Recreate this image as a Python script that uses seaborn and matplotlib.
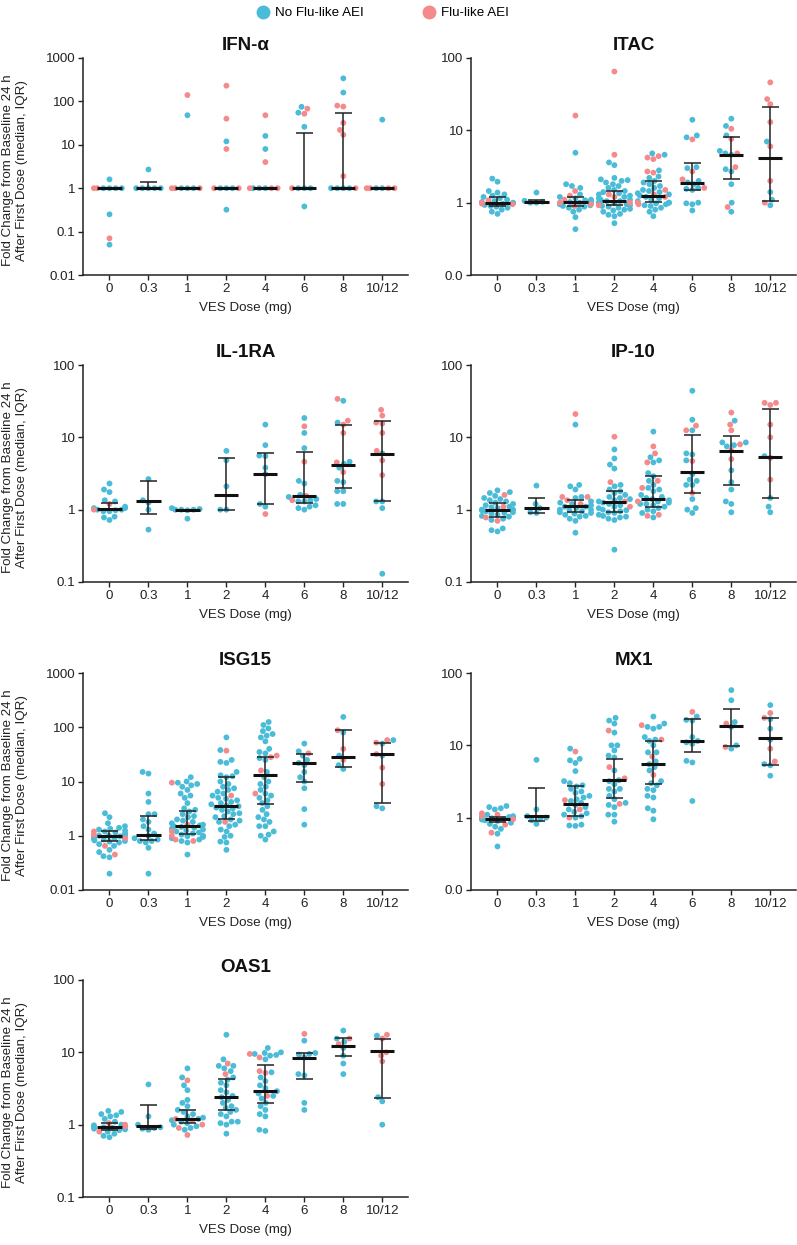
import warnings
import numpy as np
import pandas as pd
import matplotlib
matplotlib.use("Agg")
import matplotlib.pyplot as plt
from matplotlib.lines import Line2D
import seaborn as sns

warnings.filterwarnings("ignore")

DOSES = ["0", "0.3", "1", "2", "4", "6", "8", "10/12"]
GROUPS = ["No Flu-like AEI", "Flu-like AEI"]
BLUE = "#4BBCD8"
RED = "#F58A8C"

# ---- IFN-alpha ----
IFNA_NO = {"0": [1.6, 1, 1, 1, 1, 0.25, 0.05], "0.3": [2.7, 1, 1, 1, 1, 1],
           "1": [48, 1, 1, 1], "2": [12, 1, 1, 1, 0.32], "4": [16, 8, 1, 1, 1],
           "6": [75, 55, 26, 1, 1, 1, 0.38], "8": [340, 160, 1, 1, 1, 1],
           "10/12": [38, 1, 1]}
IFNA_FLU = {"0": [1, 1, 0.07], "0.3": [], "1": [140, 1, 1, 1], "2": [230, 40, 8, 1, 1],
            "4": [48, 4, 1, 1, 1], "6": [68, 52, 1], "8": [80, 76, 32, 22, 17, 1.9, 1],
            "10/12": [1, 1, 1, 1]}
IFNA_MED = [1, 1, 1, 1, 1, 1, 1, 1]
IFNA_Q1 = [1, 1, 1, 1, 1, 1, 1, 1]
IFNA_Q3 = [1, 1.4, 1, 1, 1, 19, 53, 1]

# ---- ITAC ----
ITAC_NO = {"0": [2.15, 1.95, 1.45, 1.38, 1.3, 1.25, 1.2, 1.15, 1.1, 1.05, 1.02, 1.0, 0.98, 0.96,
                 0.93, 0.9, 0.88, 0.85, 0.8, 0.75, 0.7],
           "0.3": [1.38, 1.06, 1.03, 1.0, 1.0],
           "1": [4.9, 1.8, 1.7, 1.6, 1.3, 1.2, 1.15, 1.1, 1.08, 1.05, 1.02, 1.0, 1.0, 0.98, 0.95,
                 0.92, 0.9, 0.88, 0.85, 0.8, 0.75, 0.63, 0.43],
           "2": [3.6, 3.3, 2.2, 2.1, 2.05, 2.0, 1.9, 1.8, 1.7, 1.6, 1.5, 1.45, 1.4, 1.35, 1.3, 1.25,
                 1.2, 1.15, 1.1, 1.1, 1.05, 1.05, 1.0, 1.0, 0.98, 0.95, 0.92, 0.9, 0.88, 0.85, 0.82,
                 0.8, 0.78, 0.75, 0.7, 0.68, 0.65, 0.52],
           "4": [4.8, 4.6, 2.8, 2.3, 2.2, 2.0, 1.9, 1.8, 1.7, 1.6, 1.5, 1.45, 1.4, 1.35, 1.3, 1.25,
                 1.2, 1.15, 1.1, 1.05, 1.0, 1.0, 0.98, 0.95, 0.92, 0.9, 0.85, 0.8, 0.75, 0.65],
           "6": [14, 8.5, 8.0, 3.1, 3.0, 2.0, 1.9, 1.8, 1.6, 1.55, 1.5, 1.0, 0.98, 0.95, 0.78],
           "8": [14.5, 11.5, 8.5, 5.2, 4.8, 4.6, 2.9, 2.7, 1.8, 1.0, 0.75],
           "10/12": [7.0, 1.4, 1.1, 0.92]}
ITAC_FLU = {"0": [1.08, 1.0, 0.97, 0.95], "0.3": [],
            "1": [16, 1.45, 1.25, 1.1, 1.0, 0.95, 0.9],
            "2": [65, 4.6, 1.3, 1.2, 1.0, 0.92],
            "4": [4.4, 4.2, 4.0, 2.7, 2.6, 1.5, 1.3, 1.2, 1.0, 0.95],
            "6": [7.5, 2.7, 2.1, 1.6], "8": [10.5, 7.6, 4.8, 3.1, 0.87],
            "10/12": [46, 27, 23, 13, 6.0, 2.0, 1.0]}
ITAC_MED = [1.0, 1.03, 1.02, 1.07, 1.25, 1.85, 4.6, 4.1]
ITAC_Q1 = [0.9, 1.0, 0.9, 0.92, 1.03, 1.5, 2.1, 1.07]
ITAC_Q3 = [1.18, 1.1, 1.2, 1.45, 2.0, 3.5, 8.0, 21]

# ---- IL-1RA ----
IL1RA_NO = {"0": [2.3, 1.9, 1.75, 1.35, 1.3, 1.1, 1.05, 1.05, 1.0, 1.0, 0.98, 0.95, 0.95, 0.8,
                  0.78, 0.72],
            "0.3": [2.65, 1.35, 1.25, 1.0, 0.53],
            "1": [1.05, 1.02, 1.0, 1.0, 0.98, 1.0, 0.75],
            "2": [6.5, 4.8, 2.1, 1.0, 1.0],
            "4": [15, 7.8, 5.6, 5.5, 3.8, 3.1, 1.2, 1.1],
            "6": [18.5, 11.5, 7.1, 2.5, 2.3, 1.6, 1.5, 1.4, 1.35, 1.3, 1.3, 1.15, 1.1, 1.05, 1.0],
            "8": [32, 16, 4.6, 4.3, 3.8, 2.5, 2.4, 1.8, 1.8, 1.2, 1.2],
            "10/12": [6.0, 1.3, 1.3, 1.05, 0.13]}
IL1RA_FLU = {"0": [1.2, 1.0], "0.3": [], "1": [], "2": [], "4": [0.87],
             "6": [14.2, 4.6, 1.55, 1.35], "8": [34, 17, 15, 11.5, 4.5, 3.3],
             "10/12": [24, 20, 16, 15.5, 11.5, 6.5, 4.8, 3.0]}
IL1RA_MED = [1.02, 1.3, 1.0, 1.6, 3.1, 1.55, 4.2, 5.8]
IL1RA_Q1 = [1.0, 0.88, 0.95, 1.0, 1.18, 1.25, 2.0, 1.3]
IL1RA_Q3 = [1.25, 2.5, 1.0, 5.2, 6.1, 6.2, 15, 17]

# ---- IP-10 ----
IP10_NO = {"0": [1.85, 1.75, 1.7, 1.55, 1.45, 1.4, 1.35, 1.3, 1.25, 1.2, 1.15, 1.1, 1.08, 1.05,
                 1.0, 1.0, 0.98, 0.95, 0.92, 0.9, 0.88, 0.85, 0.82, 0.8, 0.75, 0.72, 0.55, 0.52, 0.5],
           "0.3": [2.15, 1.2, 1.05, 0.92, 0.9],
           "1": [15, 2.2, 2.1, 1.9, 1.5, 1.45, 1.3, 1.25, 1.2, 1.15, 1.1, 1.1, 1.05, 1.0, 1.0, 0.98,
                 0.95, 0.92, 0.9, 0.88, 0.85, 0.82, 0.8, 0.75, 0.7, 0.48],
           "2": [6.8, 5.1, 4.2, 3.7, 2.2, 2.1, 1.9, 1.8, 1.7, 1.6, 1.5, 1.45, 1.4, 1.35, 1.3, 1.25,
                 1.2, 1.15, 1.1, 1.05, 1.0, 0.98, 0.95, 0.92, 0.9, 0.85, 0.82, 0.8, 0.78, 0.75, 0.72,
                 0.28],
           "4": [12, 5.3, 4.8, 4.5, 3.2, 2.9, 2.5, 2.2, 2.0, 1.9, 1.8, 1.6, 1.5, 1.45, 1.4, 1.35,
                 1.3, 1.25, 1.2, 1.2, 1.15, 1.1, 1.05, 1.0, 0.95, 0.9, 0.78],
           "6": [44, 17.5, 12.5, 6.0, 5.8, 4.8, 3.1, 2.6, 2.5, 2.2, 2.2, 1.4, 1.05, 1.0, 0.9],
           "8": [17, 8.5, 8.5, 7.8, 7.5, 3.5, 2.4, 1.9, 1.3, 1.2, 0.92],
           "10/12": [5.5, 1.45, 1.1, 0.92]}
IP10_FLU = {"0": [1.6, 1.1, 0.78, 0.7], "0.3": [], "1": [21, 1.5, 1.5, 1.35, 1.2],
            "2": [10.2, 2.4, 1.3, 1.1], "4": [7.5, 6.0, 4.5, 2.5, 2.0, 1.3, 0.85, 0.82],
            "6": [14.5, 12.5, 4.7, 1.7], "8": [22, 15, 12.5, 8.0, 6.6, 5.0],
            "10/12": [30, 30, 28, 15, 10, 5.2, 2.6]}
IP10_MED = [1.0, 1.07, 1.12, 1.28, 1.4, 3.3, 6.5, 5.3]
IP10_Q1 = [0.78, 0.9, 0.92, 0.93, 1.1, 1.7, 2.2, 1.45]
IP10_Q3 = [1.25, 1.45, 1.35, 1.8, 2.9, 10.7, 10.5, 24.5]

# ---- ISG15 ----
ISG15_NO = {"0": [2.6, 2.2, 1.7, 1.5, 1.4, 1.35, 1.3, 1.25, 1.2, 1.15, 1.1, 1.05, 1.0, 1.0, 0.98,
                  0.95, 0.92, 0.9, 0.88, 0.85, 0.82, 0.8, 0.78, 0.75, 0.7, 0.65, 0.55, 0.5, 0.42,
                  0.4, 0.2],
            "0.3": [15, 14, 6.0, 4.2, 2.5, 2.5, 2.0, 1.8, 1.5, 1.3, 1.1, 1.0, 0.9, 0.85, 0.8, 0.8,
                    0.75, 0.6, 0.2],
            "1": [12, 10, 9.5, 9, 8.5, 8, 7, 6, 5.5, 5, 4, 3.2, 3.0, 2.8, 2.5, 2.3, 2.2, 2.0, 1.9,
                  1.8, 1.7, 1.6, 1.55, 1.5, 1.45, 1.4, 1.35, 1.3, 1.25, 1.2, 1.15, 1.1, 1.05, 1.0,
                  0.98, 0.95, 0.9, 0.85, 0.8, 0.75, 0.45],
            "2": [65, 38, 25, 23, 22, 15, 13, 12.5, 12, 10, 9, 8, 7.5, 7, 6.5, 6, 5.5, 5, 4.8, 4.5,
                  4.2, 4.0, 3.8, 3.6, 3.5, 3.3, 3.2, 3.0, 2.8, 2.6, 2.5, 2.3, 2.2, 2.0, 1.9, 1.8,
                  1.6, 1.5, 1.3, 1.2, 1.0, 0.95, 0.78, 0.75, 0.55],
            "4": [125, 110, 95, 85, 75, 70, 65, 55, 40, 35, 33, 27, 25, 15, 12, 10, 9, 8, 7, 6, 5.5,
                  5, 4.5, 4, 3.5, 3, 2.5, 2.2, 2.0, 1.8, 1.5, 1.5, 1.2, 1.05, 1.0, 0.85],
            "6": [50, 36, 30, 25, 22, 20, 15, 12, 10, 7.5, 3.1, 1.6],
            "8": [155, 80, 30, 20, 17],
            "10/12": [58, 50, 30, 3.5, 3.2]}
ISG15_FLU = {"0": [1.2, 1.05, 0.9, 0.65, 0.45], "0.3": [], "1": [9.5, 1.6, 1.2, 1.0, 0.85, 0.8],
             "2": [37, 5.5, 1.8], "4": [30, 28, 16, 6.0], "6": [33], "8": [88, 40, 25],
             "10/12": [58, 52, 32, 18, 9]}
ISG15_MED = [0.98, 1.03, 1.5, 3.5, 13, 22, 28, 32]
ISG15_Q1 = [0.8, 0.82, 1.1, 2.0, 3.8, 10, 18.5, 4.0]
ISG15_Q3 = [1.2, 2.3, 2.8, 12, 28, 32, 88, 52]

# ---- MX1 ----
MX1_NO = {"0": [1.45, 1.4, 1.35, 1.3, 1.1, 1.05, 1.02, 1.0, 1.0, 0.98, 0.96, 0.94, 0.92, 0.9,
                0.85, 0.82, 0.75, 0.7, 0.6, 0.4],
          "0.3": [6.3, 1.3, 1.05, 1.0, 0.95, 0.92, 0.82],
          "1": [9, 6.5, 6.2, 5.7, 4.4, 3.2, 3.0, 2.8, 2.7, 2.5, 2.3, 2.2, 2.0, 1.9, 1.8, 1.7, 1.6,
                1.5, 1.4, 1.3, 1.2, 1.15, 1.1, 1.05, 1.0, 0.8, 0.78, 0.77],
          "2": [24, 22, 20, 15, 10, 10, 8.5, 7.2, 6.8, 4.5, 3.3, 3.2, 2.9, 2.5, 2.5, 2.3, 2.0, 1.8,
                1.6, 1.5, 1.4, 1.1, 1.1, 0.88],
          "4": [25, 20, 18, 18, 17, 13, 12, 11.5, 10, 8, 8, 6, 5.5, 5, 4.5, 3.2, 3.0, 2.8, 2.5,
                2.4, 2.0, 1.9, 1.35, 1.25, 0.95],
          "6": [25, 22.5, 22, 13, 11.5, 11, 10.5, 6.1, 5.8, 1.7],
          "8": [58, 42, 21, 18, 10, 9],
          "10/12": [36, 23, 17, 12, 5.5, 5.3, 3.8]}
MX1_FLU = {"0": [1.15, 1.1, 1.05, 0.95, 0.8, 0.62], "0.3": [], "1": [8.2, 1.75, 1.3, 1.0],
           "2": [16, 5.0, 3.5, 1.55], "4": [19, 12, 7, 3.9], "6": [29], "8": [20, 9.5],
           "10/12": [28, 24, 9, 6]}
MX1_MED = [0.97, 1.05, 1.55, 3.3, 5.6, 11.5, 18.5, 12.5]
MX1_Q1 = [0.88, 0.9, 1.07, 1.85, 2.9, 8.0, 9.7, 5.3]
MX1_Q3 = [1.03, 2.6, 2.75, 6.5, 11.5, 23, 32, 24]

# ---- OAS1 ----
OAS1_NO = {"0": [1.55, 1.5, 1.4, 1.35, 1.3, 1.2, 1.1, 1.0, 0.98, 0.95, 0.93, 0.92, 0.9, 0.88,
                 0.86, 0.84, 0.8, 0.75, 0.7, 0.67],
           "0.3": [3.6, 1.3, 1.0, 0.92, 0.9, 0.88, 0.85],
           "1": [6.0, 4.5, 3.5, 3.0, 2.2, 2.0, 1.8, 1.6, 1.5, 1.4, 1.3, 1.25, 1.2, 1.15, 1.1, 1.05,
                 1.0, 0.95, 0.9, 0.85],
           "2": [17.5, 8, 6.5, 6.5, 6, 5.5, 4.5, 4.2, 3.8, 3.5, 3.0, 2.8, 2.5, 2.4, 2.2, 2.0, 1.8,
                 1.7, 1.6, 1.5, 1.4, 1.3, 1.1, 1.1, 1.05, 1.0, 0.75],
           "4": [11.5, 10, 9.8, 9.5, 9.2, 9, 8, 5.3, 4.5, 4, 3.5, 3.2, 2.9, 2.7, 2.5, 2.3, 2.0,
                 1.8, 1.6, 1.4, 1.3, 0.85, 0.82],
           "6": [14.5, 9.8, 9.5, 9.3, 8.5, 5.0, 4.8, 2.0, 1.6],
           "8": [20, 15.5, 14, 11.5, 9, 7, 5],
           "10/12": [17, 2.4, 2.1, 1.0]}
OAS1_FLU = {"0": [1.05, 1.0, 0.95, 0.8], "0.3": [], "1": [4.1, 1.2, 1.15, 1.0, 0.9, 0.72],
            "2": [7, 5], "4": [9.5, 8.5, 5.5, 5.2, 2.5], "6": [18], "8": [15.5, 13],
            "10/12": [17.5, 15.5, 10, 9, 7.5]}
OAS1_MED = [0.93, 0.95, 1.2, 2.4, 2.9, 8.3, 12.3, 10.5]
OAS1_Q1 = [0.85, 0.87, 1.05, 1.6, 2.0, 4.3, 9.0, 2.35]
OAS1_Q3 = [1.05, 1.85, 1.6, 4.3, 6.7, 9.8, 16, 15.5]

plt.rcParams["font.family"] = ["Liberation Sans", "DejaVu Sans"]

W, H = 797, 1245
fig = plt.figure(figsize=(W / 100, H / 100), dpi=100)


def to_frame(no, flu):
    rows = []
    for d in DOSES:
        for v in no[d]:
            rows.append((d, v, GROUPS[0]))
        for v in flu[d]:
            rows.append((d, v, GROUPS[1]))
    return pd.DataFrame(rows, columns=["dose", "value", "group"])


panels = [
    ("IFN-\u03b1", IFNA_NO, IFNA_FLU, IFNA_MED, IFNA_Q1, IFNA_Q3, (0.01, 1000),
     [0.01, 0.1, 1, 10, 100, 1000], ["0.01", "0.1", "1", "10", "100", "1000"], 83, 58),
    ("ITAC", ITAC_NO, ITAC_FLU, ITAC_MED, ITAC_Q1, ITAC_Q3, (0.1, 100),
     [0.1, 1, 10, 100], ["0.0", "1", "10", "100"], 471, 58),
    ("IL-1RA", IL1RA_NO, IL1RA_FLU, IL1RA_MED, IL1RA_Q1, IL1RA_Q3, (0.1, 100),
     [0.1, 1, 10, 100], ["0.1", "1", "10", "100"], 83, 365),
    ("IP-10", IP10_NO, IP10_FLU, IP10_MED, IP10_Q1, IP10_Q3, (0.1, 100),
     [0.1, 1, 10, 100], ["0.1", "1", "10", "100"], 471, 365),
    ("ISG15", ISG15_NO, ISG15_FLU, ISG15_MED, ISG15_Q1, ISG15_Q3, (0.1, 1000),
     [0.1, 1, 10, 100, 1000], ["0.01", "1", "10", "100", "1000"], 83, 673),
    ("MX1", MX1_NO, MX1_FLU, MX1_MED, MX1_Q1, MX1_Q3, (0.1, 100),
     [0.1, 1, 10, 100], ["0.0", "1", "10", "100"], 471, 673),
    ("OAS1", OAS1_NO, OAS1_FLU, OAS1_MED, OAS1_Q1, OAS1_Q3, (0.1, 100),
     [0.1, 1, 10, 100], ["0.1", "1", "10", "100"], 83, 980),
]

AX_W, AX_H = 325, 217
INK = "#222222"
FS = 9.6

for title, no, flu, med, q1, q3, ylim, yticks, ylabels, left, top in panels:
    ax = fig.add_axes([left / W, 1 - (top + AX_H) / H, AX_W / W, AX_H / H])
    ax.set_yscale("log")
    ax.set_ylim(*ylim)
    ax.set_xlim(-0.68, 7.66)
    df = to_frame(no, flu)
    sns.swarmplot(data=df, x="dose", y="value", hue="group", order=DOSES, hue_order=GROUPS,
                  palette=[BLUE, RED], size=4.2, linewidth=0, ax=ax, legend=False, zorder=2)
    ax.set_xlim(-0.68, 7.66)
    ax.set_ylim(*ylim)
    xs = np.arange(len(DOSES))
    ax.vlines(xs, q1, q3, color=INK, lw=1.1, zorder=3)
    ax.hlines(q1, xs - 0.22, xs + 0.22, color=INK, lw=1.1, zorder=3)
    ax.hlines(q3, xs - 0.22, xs + 0.22, color=INK, lw=1.1, zorder=3)
    ax.hlines(med, xs - 0.31, xs + 0.31, color="#111111", lw=2.2, zorder=4)

    ax.set_yticks(yticks)
    ax.set_yticklabels(ylabels)
    ax.minorticks_off()
    ax.set_xticks(xs)
    ax.set_xticklabels(DOSES)
    ax.tick_params(axis="both", labelsize=FS, length=3.5, width=1, color=INK, labelcolor=INK,
                   direction="out", pad=2)
    for s in ["top", "right"]:
        ax.spines[s].set_visible(False)
    for s in ["left", "bottom"]:
        ax.spines[s].set_linewidth(1.1)
        ax.spines[s].set_color(INK)
    ax.set_title(title, fontsize=13.5, fontweight="bold", pad=6, color="#111111")
    ax.set_xlabel("VES Dose (mg)", fontsize=FS, labelpad=5, color=INK)
    ax.set_ylabel("")
    if left < 200:
        fig.text(15 / W, 1 - (top + AX_H / 2 + 4) / H,
                 "Fold Change from Baseline 24 h\nAfter First Dose (median, IQR)",
                 rotation=90, ha="center", va="center", fontsize=FS, color=INK,
                 multialignment="center", linespacing=1.3)

handles = [Line2D([], [], marker="o", ls="", color=BLUE, markersize=9),
           Line2D([], [], marker="o", ls="", color=RED, markersize=9)]
fig.legend(handles, GROUPS, loc="upper center", bbox_to_anchor=(0.48, 1.004), ncol=2,
           frameon=False, fontsize=FS, handletextpad=0.4, columnspacing=4.4,
           handlelength=1.0)

fig.savefig("out.png", dpi=100)
